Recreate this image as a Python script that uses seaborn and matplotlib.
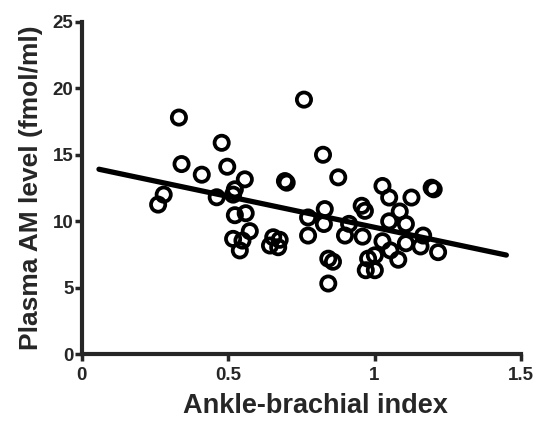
import numpy as np
import pandas as pd
import matplotlib
matplotlib.use("Agg")
import matplotlib.pyplot as plt
import seaborn as sns

# data
abi = [0.332, 0.341, 0.261, 0.280, 0.410, 0.478, 0.497, 0.461, 0.523, 0.517,
       0.557, 0.523, 0.560, 0.574, 0.517, 0.549, 0.540, 0.643, 0.654, 0.671,
       0.676, 0.694, 0.700, 0.759, 0.773, 0.773, 0.824, 0.830, 0.827, 0.876,
       0.842, 0.858, 0.842, 0.899, 0.913, 0.956, 0.967, 0.959, 0.970, 0.978,
       1.001, 1.001, 1.027, 1.050, 1.050, 1.027, 1.054, 1.081, 1.086, 1.107,
       1.107, 1.126, 1.157, 1.166, 1.195, 1.202, 1.217]
am = [17.8, 14.3, 11.25, 12.0, 13.5, 15.9, 14.1, 11.8, 12.4, 12.0,
      13.15, 10.45, 10.6, 9.25, 8.67, 8.54, 7.80, 8.17, 8.79, 8.04,
      8.6, 13.02, 12.9, 19.15, 10.28, 8.92, 15.0, 10.91, 9.79, 13.3,
      7.18, 6.95, 5.31, 8.92, 9.8, 11.16, 10.78, 8.84, 6.31, 7.18,
      6.31, 7.43, 12.65, 11.78, 9.99, 8.49, 7.8, 7.10, 10.73, 9.79,
      8.34, 11.78, 8.10, 8.92, 12.52, 12.4, 7.67]

# regression line end points
fit_x = [0.059, 1.450]
fit_y = [13.91, 7.45]

x_ticks = [0, 0.5, 1, 1.5]
x_labels = ["0", "0.5", "1", "1.5"]
y_ticks = [0, 5, 10, 15, 20, 25]

df = pd.DataFrame({"ABI": abi, "AM": am})
fit = pd.DataFrame({"ABI": fit_x, "AM": fit_y})

sns.set_style("ticks")
plt.rcParams["font.family"] = ["Liberation Sans", "DejaVu Sans"]
plt.rcParams["font.weight"] = "bold"

fig = plt.figure(figsize=(5.41, 4.21), dpi=100)
ax = fig.add_axes([0.151, 0.159, 0.812, 0.789])

sns.scatterplot(data=df, x="ABI", y="AM", ax=ax, marker="o", s=105,
                facecolor="none", edgecolor="black", linewidth=2.7,
                zorder=2, clip_on=False)
sns.lineplot(data=fit, x="ABI", y="AM", ax=ax, color="black",
             linewidth=3.8, zorder=3)

ax.set_xlim(0, 1.5)
ax.set_ylim(0, 25)
ax.set_xticks(x_ticks)
ax.set_xticklabels(x_labels)
ax.set_yticks(y_ticks)

sns.despine(ax=ax)
for side in ["left", "bottom"]:
    ax.spines[side].set_linewidth(3)
ax.tick_params(axis="both", direction="out", length=5, width=2.5,
               labelsize=13.5)
ax.tick_params(axis="x", pad=4)
ax.tick_params(axis="y", pad=1)
for lab in ax.get_xticklabels() + ax.get_yticklabels():
    lab.set_fontweight("bold")

ax.set_xlabel("Ankle-brachial index", fontsize=19.5, fontweight="bold",
              labelpad=7)
ax.xaxis.label.set_x(0.533)
ax.set_ylabel("Plasma AM level (fmol/ml)", fontsize=19, fontweight="bold",
              labelpad=7)

fig.savefig("out.png", dpi=100)
